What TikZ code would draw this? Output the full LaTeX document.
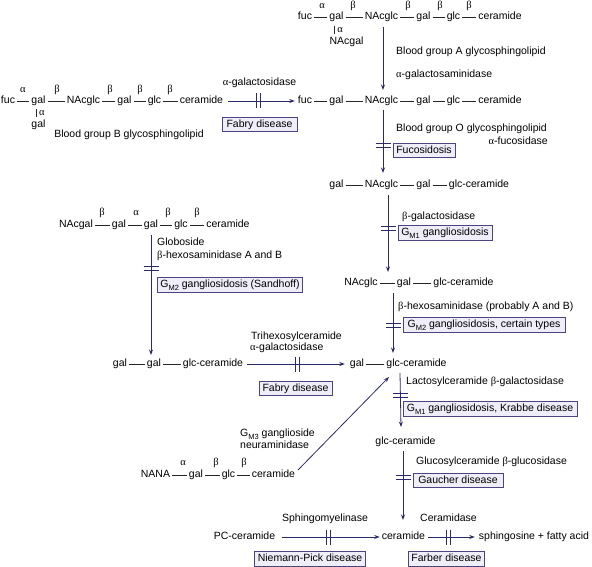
\documentclass[tikz,border=0pt]{standalone}
\usepackage{fontspec}
\setmainfont{Liberation Sans}
\newfontfamily\gk{Liberation Serif}
\usetikzlibrary{arrows.meta,calc}
\definecolor{arrc}{HTML}{2B2A6B}
\definecolor{boxd}{HTML}{4A4580}
\definecolor{boxf}{HTML}{EEEDF8}
\newcommand{\al}{{\gk α}}
\newcommand{\be}{{\gk β}}
\newcommand{\sbs}[1]{\raisebox{-0.45ex}{\fontsize{7.5}{8}\selectfont #1}}
\tikzset{
  w/.style={inner xsep=2pt, inner ysep=0pt, text height=7.6pt, text depth=2.2pt},
  gr/.style={font=\fontsize{10.5}{11}\selectfont\gk, inner sep=0pt},
  lbl/.style={inner sep=0pt, text height=7.6pt, text depth=2.2pt},
  dbox/.style={draw=boxd, fill=boxf, line width=0.7pt, inner xsep=3pt, inner ysep=2.4pt, text height=7.6pt, text depth=2.2pt},
  bond/.style={draw=black!85, line width=0.7pt},
  arr/.style={draw=arrc, line width=0.8pt, -{Stealth[length=5.5pt,width=4pt]}},
  brk/.style={draw=arrc, line width=0.8pt},
  hbrk/.pic={\draw[brk] (-2,-7.5)--(-2,7.5) (2,-7.5)--(2,7.5);},
  vbrk/.pic={\draw[brk] (-7.5,-2)--(7.5,-2) (-7.5,2)--(7.5,2);}
}
\begin{document}
\begin{tikzpicture}[x=1pt,y=-1pt,font=\fontsize{10.5}{12}\selectfont]
\useasboundingbox (0,0) rectangle (592,567);

% ---------- Row 1: blood group A ----------
\node[w] (r1a) at (305,17) {fuc};
\node[w] (r1b) at (336.5,17) {gal};
\node[w] (r1c) at (381.5,17) {NAcglc};
\node[w] (r1d) at (423.5,17) {gal};
\node[w] (r1e) at (453.5,17) {glc};
\node[w] (r1f) at (500,17) {ceramide};
\draw[bond] (r1a)--(r1b) (r1b)--(r1c) (r1c)--(r1d) (r1d)--(r1e) (r1e)--(r1f);
\node[gr] (r1g1) at (322,6) {α};
\node[gr] (r1g2) at (353,6) {β};
\node[gr] (r1g3) at (408,6) {β};
\node[gr] (r1g4) at (440,6) {β};
\node[gr] (r1g5) at (469,6) {β};
\node[w] (r1n) at (346.5,42) {NAcgal};
\coordinate (r1t) at (334,26);
\coordinate (r1u) at (334,34);
\draw[bond,line width=0.5pt] (r1t)--(r1u);
\node[gr] (r1g6) at (340,30) {α};
\node[lbl,anchor=west] (lA1) at (396,52) {Blood group A glycosphingolipid};
\node[lbl,anchor=west] (lA2) at (396,75) {\al-galactosaminidase};
\coordinate (v1s) at (383,27);
\coordinate (v1e) at (383,90);
\draw[arr] (v1s)--(v1e);

% ---------- Row 2: blood group O ----------
\node[w] (r2a) at (305,101) {fuc};
\node[w] (r2b) at (336.5,101) {gal};
\node[w] (r2c) at (381.5,101) {NAcglc};
\node[w] (r2d) at (423.5,101) {gal};
\node[w] (r2e) at (453.5,101) {glc};
\node[w] (r2f) at (500,101) {ceramide};
\draw[bond] (r2a)--(r2b) (r2b)--(r2c) (r2c)--(r2d) (r2d)--(r2e) (r2e)--(r2f);

% ---------- Blood group B chain ----------
\node[w] (bA) at (8,101) {fuc};
\node[w] (bB) at (38.5,101) {gal};
\node[w] (bC) at (83.5,101) {NAcglc};
\node[w] (bD) at (124.5,101) {gal};
\node[w] (bE) at (154.5,101) {glc};
\node[w] (bF) at (201.5,101) {ceramide};
\draw[bond] (bA)--(bB) (bB)--(bC) (bC)--(bD) (bD)--(bE) (bE)--(bF);
\node[gr] (bg1) at (23,90) {α};
\node[gr] (bg2) at (57,90) {β};
\node[gr] (bg3) at (110,90) {β};
\node[gr] (bg4) at (140,90) {β};
\node[gr] (bg5) at (170,90) {β};
\coordinate (bt) at (36,109);
\coordinate (bu) at (36,117);
\draw[bond,line width=0.5pt] (bt)--(bu);
\node[gr] (bg6) at (42,113) {α};
\node[w] (bG) at (38.5,125) {gal};
\node[lbl] (lB) at (129,135) {Blood group B glycosphingolipid};
\draw[arr,shorten <=3pt,shorten >=1pt] (bF)--(r2a);
\pic at (258,101) {hbrk};
\node[lbl] (lB2) at (259.5,83) {\al-galactosidase};
\node[dbox,minimum width=75pt] (fab1) at (259.5,124.5) {Fabry disease};

% ---------- Row 2 -> Row 3 ----------
\coordinate (v2s) at (383,110);
\coordinate (v2e) at (383,173);
\draw[arr] (v2s)--(v2e);
\pic at (383,145) {vbrk};
\node[lbl,anchor=west] (lO1) at (396,129) {Blood group O glycosphingolipid};
\node[lbl,anchor=east] (lO2) at (548,142) {\al-fucosidase};
\node[dbox,minimum width=62pt] (fuco) at (424,150.5) {Fucosidosis};

% ---------- Row 3 ----------
\node[w] (r3a) at (336.5,185) {gal};
\node[w] (r3b) at (381.5,185) {NAcglc};
\node[w] (r3c) at (423.5,185) {gal};
\node[w] (r3d) at (479,185) {glc-ceramide};
\draw[bond] (r3a)--(r3b) (r3b)--(r3c) (r3c)--(r3d);
\coordinate (v3s) at (388,195);
\coordinate (v3e) at (388,272);
\draw[arr] (v3s)--(v3e);
\pic at (388,228) {vbrk};
\node[lbl,anchor=west] (l31) at (402,217) {\be-galactosidase};
\node[dbox,minimum width=94pt] (gm1a) at (445,233) {G\sbs{M1} gangliosidosis};

% ---------- Row 4 ----------
\node[w] (r4a) at (361,283) {NAcglc};
\node[w] (r4b) at (404,283) {gal};
\node[w] (r4c) at (463.5,283) {glc-ceramide};
\draw[bond] (r4a)--(r4b) (r4b)--(r4c);
\coordinate (v4s) at (393,293);
\coordinate (v4e) at (393,353);
\draw[arr] (v4s)--(v4e);
\pic at (393,325) {vbrk};
\node[lbl,anchor=west] (l41) at (398,307) {\be-hexosaminidase (probably A and B)};
\node[dbox,minimum width=162pt] (gm2a) at (484,325) {G\sbs{M2} gangliosidosis, certain types};

% ---------- Globoside chain ----------
\node[w] (gA) at (76,225) {NAcgal};
\node[w] (gB) at (119,225) {gal};
\node[w] (gC) at (151,225) {gal};
\node[w] (gD) at (181,225) {glc};
\node[w] (gE) at (228,225) {ceramide};
\draw[bond] (gA)--(gB) (gB)--(gC) (gC)--(gD) (gD)--(gE);
\node[gr] (gg1) at (102,213) {β};
\node[gr] (gg2) at (136,213) {α};
\node[gr] (gg3) at (168,213) {β};
\node[gr] (gg4) at (197,213) {β};
\coordinate (vGs) at (151,235);
\coordinate (vGe) at (151,355);
\draw[arr] (vGs)--(vGe);
\pic at (151,268) {vbrk};
\node[lbl,anchor=west] (lG1) at (157,243) {Globoside};
\node[lbl,anchor=west] (lG2) at (157,256) {\be-hexosaminidase A and B};
\node[dbox,anchor=west,minimum width=145pt] (sand) at (157,285) {G\sbs{M2} gangliosidosis (Sandhoff)};

% ---------- Row 5 ----------
\node[w] (l5a) at (120,364) {gal};
\node[w] (l5b) at (154,364) {gal};
\node[w] (l5c) at (213,364) {glc-ceramide};
\draw[bond] (l5a)--(l5b) (l5b)--(l5c);
\node[w] (r5a) at (357,364) {gal};
\node[w] (r5b) at (416.5,364) {glc-ceramide};
\draw[bond] (r5a)--(r5b);
\draw[arr,shorten <=2pt,shorten >=3pt] (l5c)--(r5a);
\pic at (297,364) {hbrk};
\node[lbl] (lT1) at (296.5,337) {Trihexosylceramide};
\node[lbl,anchor=west] (lT2) at (250,348) {\al-galactosidase};
\node[dbox,minimum width=73pt] (fab2) at (295.5,388.5) {Fabry disease};

\coordinate (v5s) at (400,373);
\coordinate (v5e) at (401,427);
\draw[arr] (v5s)--(v5e);
\pic at (400,395) {vbrk};
\node[lbl,anchor=west] (l51) at (406,382) {Lactosylceramide \be-galactosidase};
\node[dbox,minimum width=174pt] (gm1b) at (490,409) {G\sbs{M1} gangliosidosis, Krabbe disease};

% ---------- NANA chain ----------
\node[w] (nA) at (155.5,475) {NANA};
\node[w] (nB) at (196,475) {gal};
\node[w] (nC) at (228.5,475) {glc};
\node[w] (nD) at (273.5,475) {ceramide};
\draw[bond] (nA)--(nB) (nB)--(nC) (nC)--(nD);
\node[gr] (ng1) at (183,463) {α};
\node[gr] (ng2) at (216,463) {β};
\node[gr] (ng3) at (244,463) {β};
\node[lbl,anchor=west] (lN1) at (240,434) {G\sbs{M3} ganglioside};
\node[lbl,anchor=west] (lN2) at (240,446) {neuraminidase};
\coordinate (dgs) at (298,470);
\coordinate (dge) at (389,377);
\draw[arr] (dgs)--(dge);

% ---------- Row 6 ----------
\node[w] (r6a) at (405.5,442) {glc-ceramide};
\coordinate (v6s) at (403,451);
\coordinate (v6e) at (403,520);
\draw[arr] (v6s)--(v6e);
\pic at (403,477) {vbrk};
\node[lbl,anchor=west] (l61) at (416,462) {Glucosylceramide \be-glucosidase};
\node[dbox,minimum width=90pt] (gau) at (458,480.5) {Gaucher disease};

% ---------- Row 7 ----------
\node[w] (r7a) at (244.5,537) {PC-ceramide};
\node[w] (r7b) at (403.5,537) {ceramide};
\node[w] (r7c) at (534,537) {sphingosine + fatty acid};
\draw[arr,shorten <=5pt,shorten >=0pt] (r7a)--(r7b);
\pic at (328,537) {hbrk};
\node[lbl] (l71) at (325,519) {Sphingomyelinase};
\node[dbox,minimum width=110pt] (npd) at (310,559) {Niemann-Pick disease};
\draw[arr,shorten <=1pt,shorten >=2pt] (r7b)--(r7c);
\pic at (448,537) {hbrk};
\node[lbl] (l72) at (448.5,519) {Ceramidase};
\node[dbox,minimum width=73pt] (farb) at (446.5,559) {Farber disease};
\end{tikzpicture}
\end{document}
